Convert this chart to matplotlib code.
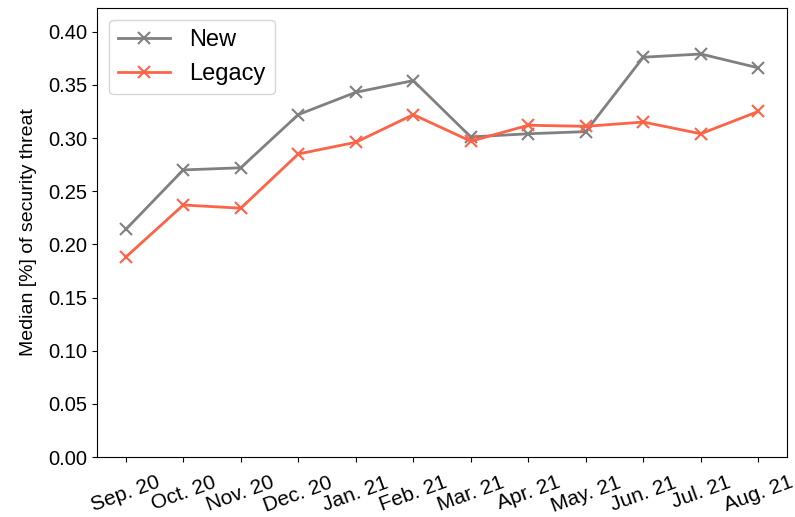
import matplotlib.pyplot as plt

plt.rcParams['font.family'] = ['Liberation Sans', 'DejaVu Sans']

months = ['Sep. 20', 'Oct. 20', 'Nov. 20', 'Dec. 20', 'Jan. 21', 'Feb. 21',
          'Mar. 21', 'Apr. 21', 'May. 21', 'Jun. 21', 'Jul. 21', 'Aug. 21']
new_vals = [0.214, 0.270, 0.272, 0.322, 0.343, 0.354,
            0.301, 0.304, 0.306, 0.376, 0.379, 0.366]
legacy_vals = [0.188, 0.237, 0.234, 0.285, 0.296, 0.322,
               0.297, 0.312, 0.311, 0.315, 0.304, 0.325]

fig, ax = plt.subplots(figsize=(7.95, 5.17), dpi=100)
fig.subplots_adjust(left=0.122, right=0.99, top=0.985, bottom=0.116)

x = range(len(months))
ax.plot(x, new_vals, color='grey', marker='x', markersize=9, mew=1.5, lw=2, label='New')
ax.plot(x, legacy_vals, color='tomato', marker='x', markersize=9, mew=1.5, lw=2, label='Legacy')

ax.set_xlim(-0.5, 11.5)
ax.set_ylim(0, 0.4225)
ax.set_yticks([i * 0.05 for i in range(9)])
ax.set_yticklabels(['%.2f' % (i * 0.05) for i in range(9)], fontsize=14.5)
ax.set_xticks(list(x))
ax.set_xticklabels(months, rotation=20, ha='center', fontsize=15)
ax.tick_params(axis='x', pad=8)
ax.set_ylabel('Median [%] of security threat', fontsize=14, labelpad=8)

ax.legend(loc='upper left', fontsize=17, handlelength=2.2)

fig.savefig('out.png')
